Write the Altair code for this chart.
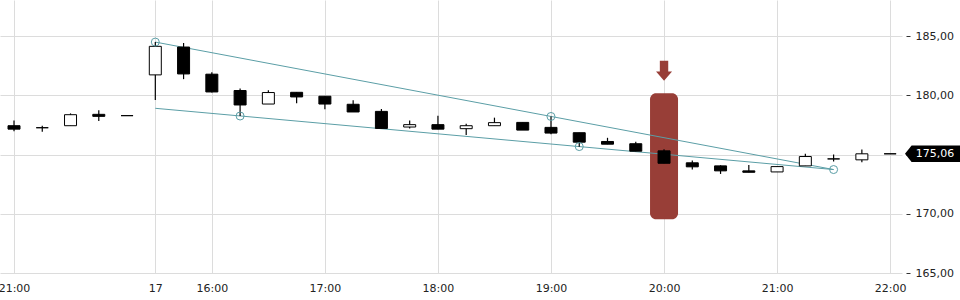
import altair as alt
import pandas as pd

# ---- data ----
opens  = [177.43, 177.26, 177.43, 178.39, 178.28, 181.72, 184.07, 181.78, 180.40, 179.26,
          180.25, 179.92, 179.24, 178.64, 177.32, 177.52, 177.18, 177.43, 177.71, 177.29,
          176.84, 176.10, 175.91, 175.31, 174.30, 174.04, 173.62, 173.53, 174.04, 174.63,
          174.55, 175.06]
highs  = [177.88, 177.43, 178.47, 178.73, 178.28, 184.49, 184.41, 181.95, 180.57, 180.42,
          180.25, 179.92, 179.58, 178.84, 177.86, 178.28, 177.60, 178.11, 177.71, 178.21,
          176.84, 176.41, 176.08, 175.45, 174.50, 174.09, 174.12, 173.98, 175.06, 175.00,
          175.42, 175.06]
lows   = [176.97, 176.92, 177.43, 177.82, 178.28, 179.60, 181.36, 180.23, 178.25, 179.26,
          179.32, 178.81, 178.59, 177.20, 177.20, 177.14, 176.64, 177.43, 177.06, 176.72,
          175.65, 175.87, 175.28, 174.26, 173.74, 173.36, 173.50, 173.53, 174.04, 174.41,
          174.35, 175.06]
closes = [177.14, 177.26, 178.36, 178.22, 178.28, 184.13, 181.80, 180.28, 179.18, 180.23,
          179.86, 179.26, 178.59, 177.20, 177.52, 177.14, 177.43, 177.69, 177.06, 176.81,
          176.04, 175.87, 175.28, 174.26, 173.96, 173.62, 173.50, 173.98, 174.83, 174.63,
          175.06, 175.06]

tick_idx = [0, 5, 7, 11, 15, 19, 23, 27, 31]
tick_labels = ["21:00", "17", "16:00", "17:00", "18:00", "19:00", "20:00", "21:00", "22:00"]
y_ticks = [165, 170, 175, 180, 185]

upper_idx = [5, 29]
upper_val = [184.49, 173.73]
lower_idx = [5, 29]
lower_val = [178.90, 173.73]
pivot_idx = [5, 8, 19, 20, 29]
pivot_val = [184.49, 178.25, 178.21, 175.67, 173.73]

signal_idx = [23]
signal_low = [169.54]
signal_high = [180.17]
arrow_val = [182.06]
last_price = [175.06]

# ---- tables ----
candles = pd.DataFrame({"i": list(range(len(opens))), "open": opens, "high": highs,
                        "low": lows, "close": closes})
trend = pd.DataFrame({"i": upper_idx + lower_idx, "v": upper_val + lower_val,
                      "line": ["upper"] * len(upper_idx) + ["lower"] * len(lower_idx)})
pivots = pd.DataFrame({"i": pivot_idx, "v": pivot_val})
signal = pd.DataFrame({"i": signal_idx, "lo": signal_low, "hi": signal_high, "arrow": arrow_val})
price = pd.DataFrame({"v": last_price,
                      "label": [f"{p:.2f}".replace(".", ",") for p in last_price]})

W, H = 902, 273
FONT = "DejaVu Sans"
GRID = "#dcdcdc"
TEAL = "#5b9ea6"
RED = "#983e37"

xs = alt.Scale(domain=[-0.4954, 31.42], nice=False, zero=False, padding=0)
ys = alt.Scale(domain=[165, 188.04], nice=False, zero=False, padding=0)

lab_arr = "[" + ",".join(f"'{t}'" for t in tick_labels) + "]"
idx_arr = "[" + ",".join(str(t) for t in tick_idx) + "]"
x_axis = alt.Axis(values=tick_idx, labelExpr=f"{lab_arr}[indexof({idx_arr}, datum.value)]",
                  grid=True, gridColor=GRID, ticks=False, domain=False, labelPadding=9,
                  labelFlush=False, labelOverlap=False, labelFont=FONT, labelFontSize=11,
                  labelColor="#222", title=None)
y_axis = alt.Axis(orient="right", values=y_ticks,
                  labelExpr="datum.value == 175 ? '' : replace(format(datum.value, '.2f'), '.', ',')",
                  grid=True, gridColor=GRID, domain=False, ticks=True, tickSize=4, offset=4,
                  tickColor="#333", labelPadding=5, labelFont=FONT, labelFontSize=11,
                  labelColor="#222", title=None)

X = lambda f: alt.X(f, type="quantitative", scale=xs, axis=x_axis)
Y = lambda f: alt.Y(f, type="quantitative", scale=ys, axis=y_axis)

highlight = alt.Chart(signal).mark_bar(size=28, cornerRadius=6, color=RED).encode(
    x=X("i"), y=Y("lo"), y2="hi")

arrow = alt.Chart(signal).mark_point(
    shape="M-0.42,-1 L0.42,-1 L0.42,0.07 L0.8,0.07 L0,1 L-0.8,0.07 L-0.42,0.07 Z",
    size=400, filled=True, color=RED, opacity=1, strokeWidth=0).encode(
    x=X("i"), y=Y("arrow"))

lines = alt.Chart(trend).mark_line(color=TEAL, strokeWidth=1).encode(
    x=X("i"), y=Y("v"), detail="line:N")

wicks = alt.Chart(candles).mark_rule(color="black", strokeWidth=1.2).encode(
    x=X("i"), y=Y("low"), y2="high")

bodies = alt.Chart(candles).mark_bar(size=12, stroke="black", strokeWidth=1).encode(
    x=X("i"), y=Y("open"), y2="close",
    fill=alt.condition("datum.close > datum.open", alt.value("white"), alt.value("black")))

circles = alt.Chart(pivots).mark_point(shape="circle", size=64, filled=False,
                                        color=TEAL, strokeWidth=1, opacity=1).encode(
    x=X("i"), y=Y("v"))

tag = alt.Chart(price).mark_point(
    shape="M-1,0 L-0.76,-0.3 L1,-0.3 L1,0.3 L-0.76,0.3 Z",
    size=3025, filled=True, color="black", opacity=1, strokeWidth=0).encode(
    x=alt.value(932.5), y=Y("v"))

tag_text = alt.Chart(price).mark_text(font=FONT, fontSize=11, color="white",
                                      align="center", baseline="middle").encode(
    x=alt.value(935), y=Y("v"), text="label:N")

chart = alt.layer(highlight, arrow, lines, wicks, bodies, circles, tag, tag_text).properties(
    width=W, height=H,
    padding={"left": 0, "top": 0, "right": 960 - W, "bottom": 300 - H},
    autosize=alt.AutoSizeParams(type="none"),
).configure_view(stroke=None)

chart.save("out.html", embed_options={"renderer": "svg", "actions": False})
